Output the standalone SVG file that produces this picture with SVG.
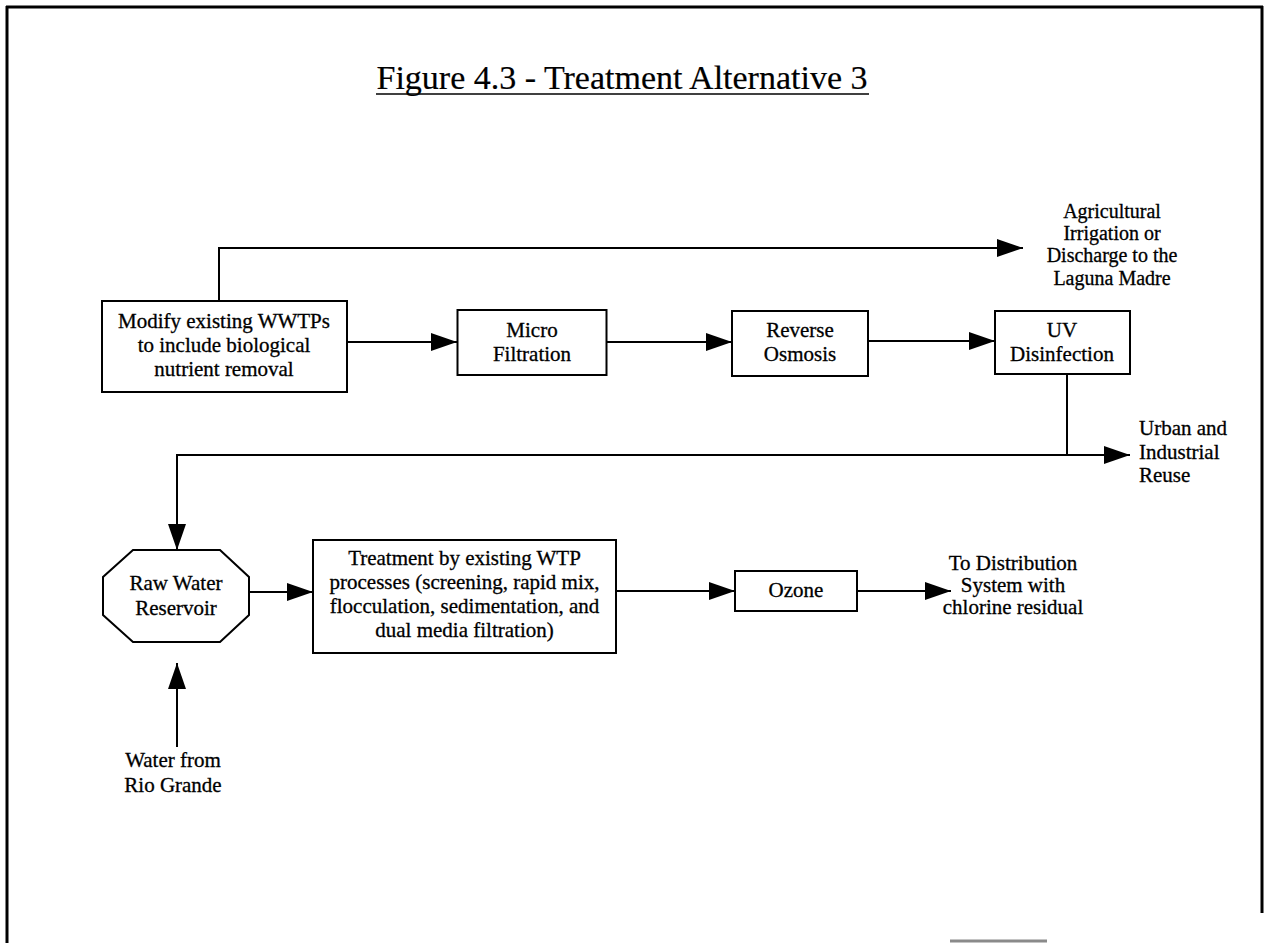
<svg xmlns="http://www.w3.org/2000/svg" width="1266" height="943" viewBox="0 0 1266 943">
  <style>
    .frame { fill: none; stroke: #000; stroke-width: 3; }
    .box { fill: #fff; stroke: #000; stroke-width: 2; }
    .wire { fill: none; stroke: #000; stroke-width: 2; }
    text { font-family: "Liberation Serif", "Times New Roman", serif; font-size: 21px; fill: #000; stroke: #000; stroke-width: 0.3; }
    .c { text-anchor: middle; }
    .title { font-size: 34px; text-anchor: middle; stroke-width: 0.2; }
    .note { font-size: 20px; }
  </style>
  <defs>
    <marker id="arrow" markerWidth="26" markerHeight="18" refX="26" refY="9" orient="auto" markerUnits="userSpaceOnUse">
      <path d="M0,0 L26,9 L0,18 Z" fill="#000"/>
    </marker>
  </defs>

  <rect width="1266" height="943" fill="#fff"/>

  <!-- page frame -->
  <g id="frame">
    <line class="frame" x1="6" y1="7" x2="1263" y2="7"/>
    <line class="frame" x1="7" y1="6" x2="7" y2="943"/>
    <line class="frame" x1="1262" y1="6" x2="1262" y2="913"/>
    <line x1="950" y1="941" x2="1047" y2="941" stroke="#8a8a8a" stroke-width="3"/>
  </g>

  <!-- heading -->
  <g id="title">
    <text class="title" x="622" y="89">Figure 4.3 - Treatment Alternative 3</text>
    <line x1="376" y1="94" x2="869" y2="94" stroke="#000" stroke-width="1.5"/>
  </g>

  <!-- connectors -->
  <g id="connectors">
    <polyline class="wire" points="219,301 219,248 1023,248" marker-end="url(#arrow)"/>
    <line class="wire" x1="347" y1="342" x2="457" y2="342" marker-end="url(#arrow)"/>
    <line class="wire" x1="607" y1="342" x2="732" y2="342" marker-end="url(#arrow)"/>
    <line class="wire" x1="868" y1="341" x2="995" y2="341" marker-end="url(#arrow)"/>
    <line class="wire" x1="1067" y1="374" x2="1067" y2="455"/>
    <line class="wire" x1="176" y1="455" x2="1130" y2="455" marker-end="url(#arrow)"/>
    <line class="wire" x1="177" y1="455" x2="177" y2="550" marker-end="url(#arrow)"/>
    <line class="wire" x1="249" y1="592" x2="313" y2="592" marker-end="url(#arrow)"/>
    <line class="wire" x1="616" y1="591" x2="735" y2="591" marker-end="url(#arrow)"/>
    <line class="wire" x1="857" y1="591" x2="951" y2="591" marker-end="url(#arrow)"/>
    <line class="wire" x1="177" y1="747" x2="177" y2="663" marker-end="url(#arrow)"/>
  </g>

  <!-- process nodes -->
  <g id="node-wwtp">
    <rect class="box" x="102" y="301" width="245" height="91"/>
    <text class="c" x="224" y="328">Modify existing WWTPs</text>
    <text class="c" x="224" y="352">to include biological</text>
    <text class="c" x="224" y="376">nutrient removal</text>
  </g>

  <g id="node-micro">
    <rect class="box" x="457.5" y="310" width="149" height="65"/>
    <text class="c" x="532" y="337">Micro</text>
    <text class="c" x="532" y="361">Filtration</text>
  </g>

  <g id="node-ro">
    <rect class="box" x="732" y="311" width="136" height="65"/>
    <text class="c" x="800" y="337">Reverse</text>
    <text class="c" x="800" y="361">Osmosis</text>
  </g>

  <g id="node-uv">
    <rect class="box" x="995" y="311" width="135" height="63"/>
    <text class="c" x="1062" y="337">UV</text>
    <text class="c" x="1062" y="361">Disinfection</text>
  </g>

  <g id="node-reservoir">
    <polygon class="box" points="133,550 220,550 249,577 249,615 220,642 133,642 103,615 103,577"/>
    <text class="c" x="176" y="590">Raw Water</text>
    <text class="c" x="176" y="615">Reservoir</text>
  </g>

  <g id="node-wtp">
    <rect class="box" x="313" y="540" width="303" height="113"/>
    <text class="c" x="464.5" y="565">Treatment by existing WTP</text>
    <text class="c" x="464.5" y="589">processes (screening, rapid mix,</text>
    <text class="c" x="464.5" y="613">flocculation, sedimentation, and</text>
    <text class="c" x="464.5" y="637">dual media filtration)</text>
  </g>

  <g id="node-ozone">
    <rect class="box" x="735" y="571" width="122" height="40"/>
    <text class="c" x="796" y="597">Ozone</text>
  </g>

  <!-- end points -->
  <g id="out-agricultural">
    <text class="c note" x="1112" y="218">Agricultural</text>
    <text class="c note" x="1112" y="240">Irrigation or</text>
    <text class="c note" x="1112" y="262">Discharge to the</text>
    <text class="c note" x="1112" y="285">Laguna Madre</text>
  </g>

  <g id="out-urban">
    <text x="1139" y="435">Urban and</text>
    <text x="1139" y="459">Industrial</text>
    <text x="1139" y="482">Reuse</text>
  </g>

  <g id="out-distribution">
    <text class="c" x="1013" y="570">To Distribution</text>
    <text class="c" x="1013" y="592">System with</text>
    <text class="c" x="1013" y="614">chlorine residual</text>
  </g>

  <g id="in-rio-grande">
    <text class="c" x="173" y="767">Water from</text>
    <text class="c" x="173" y="792">Rio Grande</text>
  </g>
</svg>
